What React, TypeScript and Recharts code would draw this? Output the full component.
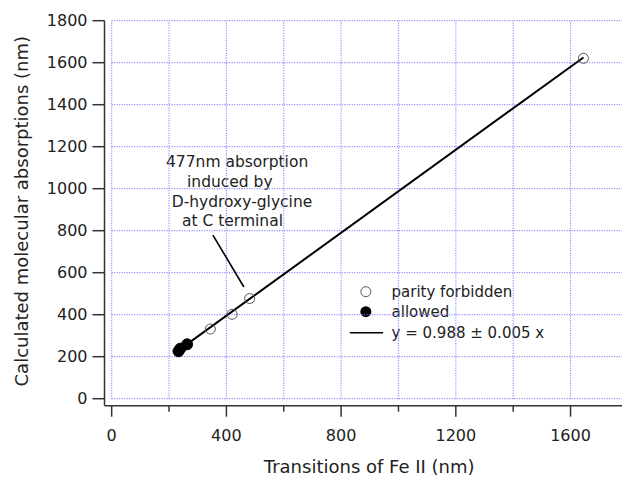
import React from "react";
import {
  ScatterChart,
  Scatter,
  XAxis,
  YAxis,
  ReferenceLine,
  ReferenceArea,
  Label,
} from "recharts";

// ---- data ----
const forbiddenX = [344, 420, 481, 1645];
const forbiddenY = [332, 402, 477, 1621];
const allowedX = [233, 239, 263];
const allowedY = [226, 238, 259];
const fitX = [233, 1645];
const fitY = [230, 1625];
const xTicks = [0, 200, 400, 600, 800, 1000, 1200, 1400, 1600];
const xMajorTicks = [0, 400, 800, 1200, 1600];
const yTicks = [0, 200, 400, 600, 800, 1000, 1200, 1400, 1600, 1800];
const gridX = [0, 200, 400, 600, 800, 1000, 1200, 1400, 1600, 1800];
const annotationLines = [
  "477nm absorption",
  "induced by",
  "D-hydroxy-glycine",
  "at C terminal",
];
const legendLabels = ["parity forbidden", "allowed", "y = 0.988 \u00b1 0.005 x"];
const xTitle = "Transitions of Fe II (nm)";
const yTitle = "Calculated molecular absorptions (nm)";

const forbidden = forbiddenX.map((x, i) => ({ x, y: forbiddenY[i] }));
const allowed = allowedX.map((x, i) => ({ x, y: allowedY[i] }));
const fit = fitX.map((x, i) => ({ x, y: fitY[i] }));

const FONT = "'DejaVu Sans', sans-serif";
const GRID = "#7f7fff";
const AXIS = "#333";

const XTick = (props: any) => {
  const { x, y, payload } = props;
  const major = xMajorTicks.includes(payload.value);
  return (
    <g>
      <line x1={x} x2={x} y1={y} y2={y + (major ? 11 : 6)} stroke={AXIS} strokeWidth={1.5} />
      {major && (
        <text x={x} y={y + 29.5} textAnchor="middle" dominantBaseline="central" fontSize={16} fontFamily={FONT} fill="#222">
          {payload.value}
        </text>
      )}
    </g>
  );
};

const OpenCircle = (props: any) => {
  const { cx, cy } = props;
  return <circle cx={cx} cy={cy} r={5} fill="none" stroke="#555" strokeWidth={1} />;
};
const FilledCircle = (props: any) => {
  const { cx, cy } = props;
  return <circle cx={cx} cy={cy} r={5.5} fill="#000" stroke="#000" />;
};
const NoShape = () => null;

const AnnotationContent = (props: any) => {
  const { x, y } = props.viewBox;
  const offsets = [
    [1, 13.7],
    [22, 33.7],
    [6.7, 53.7],
    [17, 73.3],
  ];
  return (
    <g>
      {annotationLines.map((t, i) => (
        <text key={i} x={x + offsets[i][0]} y={y + offsets[i][1]} dominantBaseline="central" fontSize={15.5} fontFamily={FONT} fill="#222">
          {t}
        </text>
      ))}
    </g>
  );
};

const LegendContent = (props: any) => {
  const { x, y } = props.viewBox;
  return (
    <g>
      <circle cx={x + 19.3} cy={y + 15} r={5} fill="none" stroke="#555" />
      <circle cx={x + 19.3} cy={y + 35} r={5.5} fill="#000" />
      <line x1={x + 3.3} x2={x + 36.6} y1={y + 56} y2={y + 56} stroke="#000" strokeWidth={1.5} />
      {legendLabels.map((t, i) => (
        <text key={i} x={x + 45} y={y + 15 + i * 20.5} dominantBaseline="central" fontSize={15} fontFamily={FONT} fill="#222">
          {t}
        </text>
      ))}
    </g>
  );
};

const YTitle = (props: any) => {
  const { y, height } = props.viewBox;
  const cx = 21.5;
  const cy = y + height / 2 - 2;
  return (
    <text x={cx} y={cy} transform={`rotate(-90, ${cx}, ${cy})`} textAnchor="middle" dominantBaseline="central" fontSize={18} fontFamily={FONT} fill="#222">
      {yTitle}
    </text>
  );
};

const XTitle = (props: any) => {
  const { x, width } = props.viewBox;
  return (
    <text x={x + width / 2 + 3} y={466} textAnchor="middle" dominantBaseline="central" fontSize={18} fontFamily={FONT} fill="#222">
      {xTitle}
    </text>
  );
};

export default function App() {
  return (
    <div style={{ position: "absolute", left: 0, top: 0, width: 622, height: 477, overflow: "hidden", background: "#fff" }}>
      <ScatterChart
        width={640}
        height={477}
        margin={{ top: 20.7, right: 12.1, bottom: 21.3, left: 10 }}
      >
        <XAxis
          type="number"
          dataKey="x"
          domain={[-25, 1800]}
          ticks={xTicks}
          allowDataOverflow
          height={50}
          tickSize={0}
          tickMargin={0}
          tick={<XTick />}
          axisLine={{ stroke: AXIS, strokeWidth: 1.5 }}
          interval={0}
        >
          <Label content={<XTitle />} />
        </XAxis>
        <YAxis
          type="number"
          dataKey="y"
          domain={[-33.3, 1800]}
          ticks={yTicks}
          allowDataOverflow
          width={94.5}
          tickSize={12}
          tickMargin={5}
          tick={{ fontSize: 16, fontFamily: FONT, fill: "#222" }}
          tickLine={{ stroke: AXIS, strokeWidth: 1.5 }}
          axisLine={{ stroke: AXIS, strokeWidth: 1.5 }}
          interval={0}
        >
          <Label content={<YTitle />} />
        </YAxis>
        {yTicks.map((v) => (
          <ReferenceLine
            key={`h${v}`}
            segment={[{ x: 0, y: v }, { x: 1800, y: v }]}
            stroke={GRID}
            strokeWidth={1.2}
            strokeDasharray="1 1.5"
            ifOverflow="visible"
          />
        ))}
        {gridX.map((v) => (
          <ReferenceLine
            key={`v${v}`}
            segment={[{ x: v, y: 0 }, { x: v, y: 1800 }]}
            stroke={GRID}
            strokeWidth={1.2}
            strokeDasharray="1 1.5"
            ifOverflow="visible"
          />
        ))}
        <ReferenceArea x1={186} x2={691} y1={794} y2={1194} fill="#fff" fillOpacity={1} stroke="none">
          <Label content={<AnnotationContent />} />
        </ReferenceArea>
        <ReferenceArea x1={819} x2={1534} y1={176} y2={581} fill="#fff" fillOpacity={1} stroke="none">
          <Label content={<LegendContent />} />
        </ReferenceArea>
        <ReferenceLine
          segment={[{ x: 353, y: 779 }, { x: 461, y: 532 }]}
          stroke="#000"
          strokeWidth={1.6}
        />
        <Scatter
          data={fit}
          line={{ stroke: "#000", strokeWidth: 2 }}
          lineType="joint"
          shape={<NoShape />}
          isAnimationActive={false}
        />
        <Scatter data={forbidden} shape={<OpenCircle />} isAnimationActive={false} />
        <Scatter data={allowed} shape={<FilledCircle />} isAnimationActive={false} />
      </ScatterChart>
    </div>
  );
}
